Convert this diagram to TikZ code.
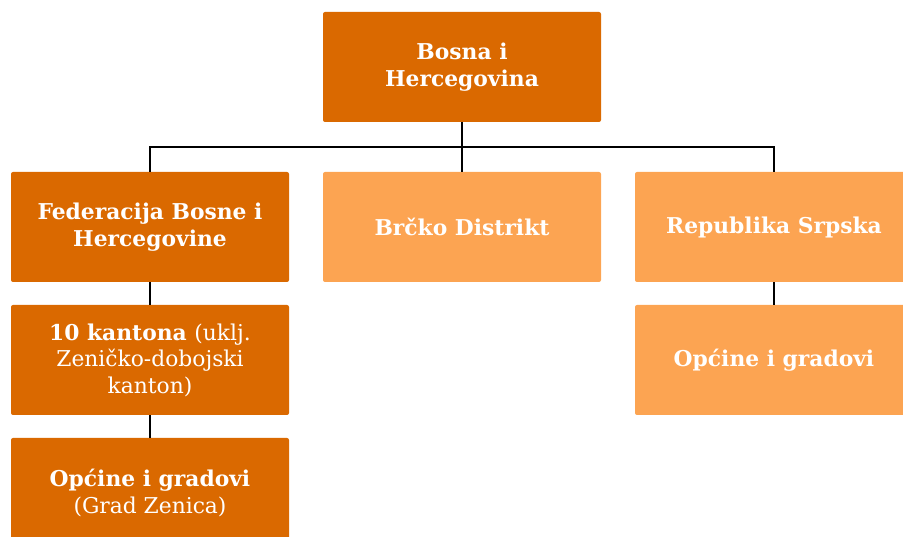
\documentclass[tikz,border=0pt]{standalone}
\usepackage{fontspec}
\setmainfont{DejaVu Serif}
\definecolor{darkorg}{RGB}{218,105,0}
\definecolor{lightorg}{RGB}{252,164,82}
\tikzset{
	unit/.style={minimum width=278pt, minimum height=110pt, inner sep=0pt, rounded corners=2pt,
		text=white, align=center, font=\fontsize{21.8}{26.5}\selectfont\bfseries},
	dark/.style={unit, fill=darkorg},
	light/.style={unit, fill=lightorg},
	link/.style={draw=black, line width=1.8pt}
}
\begin{document}
\begin{tikzpicture}[x=1pt,y=-1pt]
		\useasboundingbox (0,0) rectangle (903,537);
		\clip (0,0) rectangle (903,537);
		
		\node[dark] (bih) at (462,67) {Bosna i\\Hercegovina};
		\node[dark] (fbih) at (150,227) {Federacija Bosne i\\Hercegovine};
		\node[light] (brcko) at (462,227) {Brčko Distrikt};
		\node[light] (rs) at (774,227) {Republika Srpska};
		\node[dark] (kant) at (150,360) {10 kantona {\mdseries(uklj.}\\{\mdseries Zeničko-dobojski}\\{\mdseries kanton)}};
		\node[light] (rsop) at (774,360) {Općine i gradovi};
		\node[dark] (fbop) at (150,493) {Općine i gradovi\\{\mdseries(Grad Zenica)}};
		
		\draw[link] (bih.south) -- (brcko.north);
		\draw[link] (fbih.north) -- ++(0,-25) -| (rs.north);
		\draw[link] (fbih.south) -- (kant.north);
		\draw[link] (kant.south) -- (fbop.north);
		\draw[link] (rs.south) -- (rsop.north);
\end{tikzpicture}
\end{document}
